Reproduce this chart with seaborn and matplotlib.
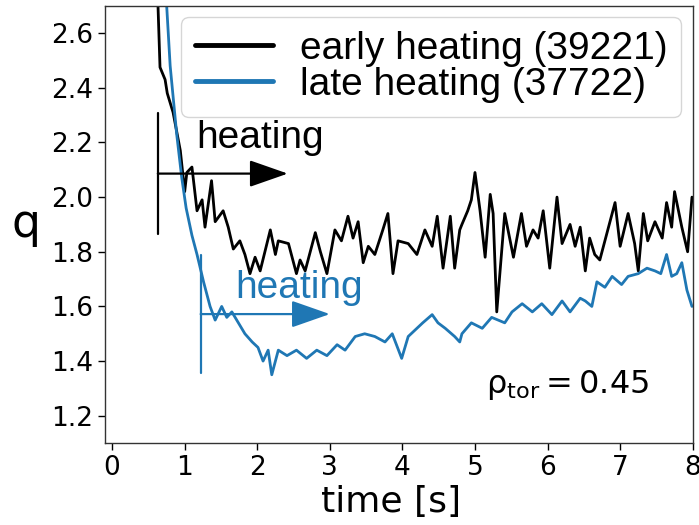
import numpy as np
import pandas as pd
import matplotlib
matplotlib.use("Agg")
import matplotlib.pyplot as plt
import seaborn as sns

# ---- data ----
early_label = "early heating (39221)"
late_label = "late heating (37722)"

early_t = [0.62, 0.66, 0.73, 0.76, 0.84, 0.94, 1.00, 1.03, 1.10, 1.17, 1.24, 1.28, 1.37, 1.42,
           1.53, 1.60, 1.67, 1.76, 1.83, 1.90, 1.97, 2.04, 2.18, 2.25, 2.29, 2.43, 2.54, 2.59,
           2.66, 2.80, 2.87, 2.96, 3.07, 3.16, 3.25, 3.32, 3.39, 3.46, 3.53, 3.62, 3.73, 3.80,
           3.87, 3.94, 4.08, 4.20, 4.31, 4.41, 4.48, 4.56, 4.66, 4.72, 4.79, 4.82, 4.90, 4.95,
           5.00, 5.07, 5.14, 5.21, 5.25, 5.30, 5.41, 5.53, 5.64, 5.71, 5.80, 5.87, 5.94, 6.03,
           6.13, 6.20, 6.31, 6.38, 6.45, 6.52, 6.58, 6.65, 6.72, 6.82, 6.93, 7.00, 7.11, 7.20,
           7.25, 7.32, 7.38, 7.48, 7.58, 7.64, 7.71, 7.75, 7.85, 7.93, 7.99]
early_q = [2.80, 2.475, 2.43, 2.38, 2.31, 2.17, 2.02, 2.09, 2.11, 1.95, 1.99, 1.89, 2.06, 1.91,
           1.95, 1.89, 1.81, 1.84, 1.79, 1.72, 1.78, 1.73, 1.88, 1.79, 1.84, 1.83, 1.72, 1.77,
           1.73, 1.87, 1.80, 1.72, 1.88, 1.84, 1.93, 1.85, 1.91, 1.76, 1.82, 1.79, 1.88, 1.94,
           1.72, 1.84, 1.83, 1.79, 1.88, 1.82, 1.93, 1.74, 1.93, 1.74, 1.88, 1.90, 1.95, 1.99,
           2.09, 1.95, 1.78, 2.01, 1.94, 1.58, 1.94, 1.78, 1.94, 1.82, 1.88, 1.85, 1.95, 1.74,
           2.00, 1.83, 1.90, 1.82, 1.89, 1.73, 1.85, 1.79, 1.77, 1.87, 1.98, 1.82, 1.94, 1.83,
           1.73, 1.94, 1.84, 1.91, 1.85, 1.98, 1.89, 2.02, 1.89, 1.80, 2.00]

late_t = [0.73, 0.80, 0.89, 0.96, 1.02, 1.10, 1.17, 1.26, 1.35, 1.42, 1.51, 1.58, 1.65, 1.74,
          1.83, 1.93, 2.01, 2.08, 2.15, 2.20, 2.29, 2.41, 2.54, 2.68, 2.82, 2.96, 3.10, 3.21,
          3.35, 3.48, 3.62, 3.76, 3.86, 3.99, 4.08, 4.20, 4.28, 4.41, 4.49, 4.59, 4.72, 4.79,
          4.82, 4.95, 5.10, 5.23, 5.41, 5.51, 5.65, 5.79, 5.92, 6.06, 6.20, 6.31, 6.45, 6.52,
          6.61, 6.68, 6.79, 6.89, 7.02, 7.11, 7.25, 7.37, 7.48, 7.56, 7.64, 7.71, 7.78, 7.85,
          7.92, 7.99]
late_q = [2.80, 2.48, 2.23, 2.07, 1.96, 1.86, 1.79, 1.69, 1.60, 1.55, 1.60, 1.56, 1.58, 1.54,
          1.50, 1.47, 1.45, 1.40, 1.44, 1.35, 1.44, 1.42, 1.44, 1.41, 1.44, 1.42, 1.46, 1.44,
          1.49, 1.50, 1.49, 1.47, 1.50, 1.41, 1.49, 1.52, 1.54, 1.57, 1.54, 1.52, 1.49, 1.47,
          1.50, 1.54, 1.52, 1.56, 1.54, 1.58, 1.61, 1.58, 1.61, 1.57, 1.62, 1.58, 1.63, 1.62,
          1.60, 1.69, 1.67, 1.71, 1.68, 1.71, 1.72, 1.74, 1.73, 1.72, 1.79, 1.71, 1.72, 1.76,
          1.66, 1.60]

# heating markers: (start time, bar bottom, bar top, arrow height, arrow tip time)
early_marker = [0.63, 1.866, 2.306, 2.086, 2.42]
late_marker = [1.22, 1.355, 1.79, 1.572, 3.0]
heating_text = "heating"
rho_text = r"$\mathrm{\rho_{tor} = 0.45}$"

BLUE = "#1f77b4"

df = pd.concat([
    pd.DataFrame({"time": early_t, "q": early_q, "shot": early_label}),
    pd.DataFrame({"time": late_t, "q": late_q, "shot": late_label}),
], ignore_index=True)

sns.set_style("ticks")
plt.rcParams["font.family"] = ["DejaVu Sans"]
plt.rcParams["mathtext.fontset"] = "dejavusans"
for k in ("text.color", "axes.labelcolor", "xtick.color", "ytick.color"):
    plt.rcParams[k] = "black"

fig = plt.figure(figsize=(6.99, 5.25), dpi=100)
ax = fig.add_axes([0.150, 0.156, 0.841, 0.833])

sns.lineplot(data=df, x="time", y="q", hue="shot",
             palette={early_label: "black", late_label: BLUE},
             estimator=None, sort=True, linewidth=2.0, ax=ax)

for m, col in ((early_marker, "black"), (late_marker, BLUE)):
    t0, lo, hi, yh, tip = m
    ax.plot([t0, t0], [lo, hi], color=col, lw=1.6)
    ax.annotate("", xy=(tip, yh), xytext=(t0, yh),
                arrowprops=dict(arrowstyle="-|>,head_length=1.2,head_width=0.42",
                                mutation_scale=20, color=col, lw=1.6,
                                shrinkA=0, shrinkB=0))

ax.text(1.16, 2.178, heating_text, color="black", fontsize=28,
        family="Liberation Sans", va="baseline", ha="left")
ax.text(1.70, 1.631, heating_text, color=BLUE, fontsize=28,
        family="Liberation Sans", va="baseline", ha="left")
ax.text(5.15, 1.282, rho_text, fontsize=23, va="baseline", ha="left")

ax.set_xlim(-0.1, 8)
ax.set_ylim(1.1, 2.7)
ax.set_xticks(range(0, 9))
ax.set_yticks([1.2, 1.4, 1.6, 1.8, 2.0, 2.2, 2.4, 2.6])
ax.tick_params(labelsize=19, length=5, width=1, colors="black")
ax.set_xlabel("time [s]", fontsize=26)
ax.xaxis.set_label_coords(0.487, -0.158, transform=ax.transAxes)
ax.xaxis.label.set_va("baseline")
ax.set_ylabel("q", fontsize=33, rotation=0, va="center", ha="center")
ax.yaxis.set_label_coords(-0.134, 0.5)
for s in ax.spines.values():
    s.set_visible(True)
    s.set_color("#333333")
    s.set_linewidth(1.0)

leg = ax.legend(loc="upper right", prop={"family": "Liberation Sans", "size": 28},
                borderaxespad=0.3, labelspacing=0.0, borderpad=0.35,
                handletextpad=0.7, handlelength=2.0, frameon=True, fancybox=True)
leg.get_frame().set_edgecolor("#cccccc")
leg.get_frame().set_linewidth(1.0)
for h in leg.get_lines():
    h.set_linewidth(3.5)

fig.savefig("out.png", dpi=100)
